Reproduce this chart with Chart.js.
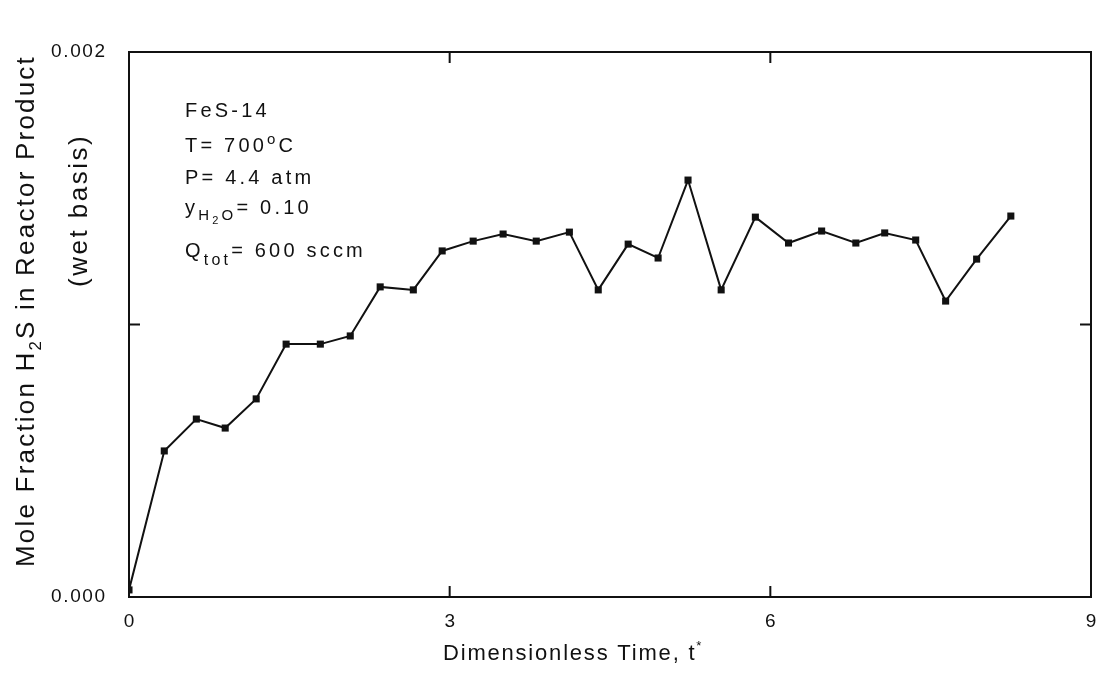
<!DOCTYPE html>
<html>
<head>
<meta charset="utf-8">
<script src="https://cdn.jsdelivr.net/npm/chart.js@4.4.0/dist/chart.umd.min.js"></script>
<style>
  html, body { margin: 0; padding: 0; background: #fff; }
  #wrap { width: 1096px; height: 677px; }
</style>
</head>
<body>
<div id="wrap"><canvas id="h2sChart" width="1096" height="677"></canvas></div>
<script>
// Data (FeS-14 run)
const timeValues = [0.00, 0.33, 0.63, 0.90, 1.19, 1.47, 1.79, 2.07, 2.35, 2.66,
                    2.93, 3.22, 3.50, 3.81, 4.12, 4.39, 4.67, 4.95, 5.23, 5.54,
                    5.86, 6.17, 6.48, 6.80, 7.07, 7.36, 7.64, 7.93, 8.25];
const h2sValues = [0.000026, 0.000536, 0.000653, 0.000620, 0.000727, 0.000928, 0.000928, 0.000958, 0.001138, 0.001127,
                   0.001270, 0.001306, 0.001332, 0.001306, 0.001339, 0.001127, 0.001295, 0.001244, 0.001530, 0.001127,
                   0.001394, 0.001299, 0.001343, 0.001299, 0.001336, 0.001310, 0.001086, 0.001240, 0.001398];

const xTickValues = [0, 3, 6, 9];
const yTickValues = [0, 0.001, 0.002];
const yTickLabels = ['0.000', '', '0.002'];

const FONT = '"Liberation Sans", Arial, sans-serif';
const INK = '#111';

// draw a run of text pieces with sub/superscript offsets
function drawRich(ctx, pieces, x, y, size, spacing) {
  let cx = x;
  pieces.forEach(p => {
    const s = p.scale ? size * p.scale : size;
    ctx.font = s + 'px ' + FONT;
    ctx.letterSpacing = spacing + 'px';
    ctx.fillText(p.text, cx, y + (p.shift || 0));
    cx += ctx.measureText(p.text).width;
  });
}

const infoLines = [
  [{ text: 'FeS-14' }],
  [{ text: 'T= 700' }, { text: 'o', scale: 0.75, shift: -8 }, { text: 'C' }],
  [{ text: 'P= 4.4 atm' }],
  [{ text: 'y' }, { text: 'H', scale: 0.75, shift: 6 }, { text: '2', scale: 0.55, shift: 10 }, { text: 'O', scale: 0.75, shift: 6 }, { text: '= 0.10' }],
  [{ text: 'Q' }, { text: 'tot', scale: 0.8, shift: 8 }, { text: '= 600 sccm' }]
];
const infoBaselines = [117, 152, 184, 214, 257];

const frameAndText = {
  id: 'frameAndText',
  afterDraw(chart) {
    const { ctx, chartArea: a, scales: { x, y } } = chart;
    ctx.save();

    // frame
    ctx.strokeStyle = INK;
    ctx.lineWidth = 2;
    ctx.strokeRect(a.left, a.top, a.right - a.left, a.bottom - a.top);

    // inward ticks on all four sides
    ctx.beginPath();
    xTickValues.forEach(v => {
      if (v <= x.min || v >= x.max) return;
      const px = x.getPixelForValue(v);
      ctx.moveTo(px, a.bottom); ctx.lineTo(px, a.bottom - 11);
      ctx.moveTo(px, a.top); ctx.lineTo(px, a.top + 11);
    });
    yTickValues.forEach(v => {
      if (v <= y.min || v >= y.max) return;
      const py = y.getPixelForValue(v);
      ctx.moveTo(a.left, py); ctx.lineTo(a.left + 11, py);
      ctx.moveTo(a.right, py); ctx.lineTo(a.right - 11, py);
    });
    ctx.stroke();

    ctx.fillStyle = INK;
    ctx.textBaseline = 'alphabetic';
    ctx.textAlign = 'left';

    // run conditions
    infoLines.forEach((line, i) => drawRich(ctx, line, a.left + 56, infoBaselines[i], 20, 3.2));

    // x axis title
    const xTitle = [{ text: 'Dimensionless Time, t' }, { text: '*', scale: 0.6, shift: -10 }];
    drawRich(ctx, xTitle, a.left + 314, 660, 22, 1.8);

    // y axis titles (rotated)
    ctx.save();
    ctx.translate(34, 567);
    ctx.rotate(-Math.PI / 2);
    drawRich(ctx, [{ text: 'Mole Fraction H' }, { text: '2', scale: 0.65, shift: 7 }, { text: 'S in Reactor Product' }], 0, 0, 26, 2.2);
    ctx.restore();

    ctx.save();
    ctx.translate(87, 287);
    ctx.rotate(-Math.PI / 2);
    drawRich(ctx, [{ text: '(wet basis)' }], 0, 0, 26, 2.5);
    ctx.restore();

    ctx.restore();
  }
};

new Chart(document.getElementById('h2sChart'), {
  type: 'scatter',
  data: {
    datasets: [{
      label: 'FeS-14',
      data: timeValues.map((t, i) => ({ x: t, y: h2sValues[i] })),
      showLine: true,
      borderColor: INK,
      backgroundColor: INK,
      borderWidth: 2,
      pointStyle: 'rect',
      pointRadius: 5,
      pointBorderWidth: 0,
      tension: 0
    }]
  },
  options: {
    responsive: false,
    devicePixelRatio: 1,
    animation: false,
    layout: { padding: { left: 0, top: 52, right: 4, bottom: 0 } },
    plugins: {
      legend: { display: false },
      tooltip: { enabled: false }
    },
    scales: {
      x: {
        type: 'linear',
        min: 0,
        max: 9,
        border: { display: false },
        grid: { display: false },
        afterBuildTicks: scale => { scale.ticks = xTickValues.map(v => ({ value: v })); },
        ticks: {
          color: INK,
          padding: 5,
          font: { family: FONT, size: 19 },
          maxRotation: 0
        },
        afterFit: scale => { scale.height = 80; scale.paddingRight = 0; scale.paddingLeft = 0; }
      },
      y: {
        type: 'linear',
        min: 0,
        max: 0.002,
        border: { display: false },
        grid: { display: false },
        afterBuildTicks: scale => { scale.ticks = yTickValues.map(v => ({ value: v })); },
        ticks: {
          color: INK,
          padding: 16,
          font: { family: FONT, size: 19 },
          callback: (value, index) => {
            // spread the digits a little like the original typeface
            return yTickLabels[index] ? yTickLabels[index].split('').join('\u200A') : '';
          }
        },
        afterFit: scale => { scale.width = 129; scale.paddingTop = 0; scale.paddingBottom = 0; }
      }
    }
  },
  plugins: [frameAndText]
});
</script>
</body>
</html>
